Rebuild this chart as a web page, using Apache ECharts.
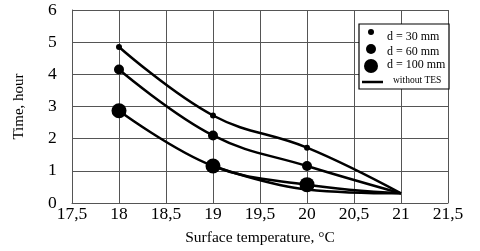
<!DOCTYPE html>
<html><head><meta charset="utf-8">
<script src="https://cdn.jsdelivr.net/npm/echarts@6/dist/echarts.min.js"></script>
<style>html,body{margin:0;padding:0;background:#fff}#c{width:480px;height:251px}</style>
</head><body><div id="c"></div>
<script>
var temps = [18, 19, 20, 21];
var d30 = [4.85, 2.72, 1.72, 0.3];
var d60 = [4.15, 2.1, 1.15, 0.3];
var d100 = [2.87, 1.15, 0.57, 0.3];
var noTesTemps = [19, 20, 21];
var noTes = [1.15, 0.42, 0.3];
var xTicks = ['17,5','18','18,5','19','19,5','20','20,5','21','21,5'];

function pairs(xs, ys){
  return xs.map(function(x,i){
    var p = {value:[x, ys[i]]};
    if (i === xs.length - 1) p.symbol = 'none';
    return p;
  });
}
var font = 'Liberation Serif';
var chart = echarts.init(document.getElementById('c'));
function lineSeries(name, data, sym){
  return {name:name, type:'line', smooth:0.4, data:data, symbol:'circle', symbolSize:sym,
    showSymbol: sym>0, lineStyle:{color:'#000', width:2.5}, itemStyle:{color:'#000'}, z:5};
}
chart.setOption({
  animation:false,
  grid:{left:72, right:32, top:10, bottom:48, show:false, outerBoundsMode:'none', containLabel:false},
  xAxis:{type:'value', min:17.5, max:21.5, interval:0.5,
    name:'Surface temperature, °C', nameLocation:'middle', nameGap:27,
    nameTextStyle:{fontFamily:font, fontSize:15.5, color:'#000'},
    axisLine:{show:true, lineStyle:{color:'#555', width:1}}, axisTick:{show:false},
    axisLabel:{fontFamily:font, fontSize:17.5, color:'#000', margin:2,
      formatter:function(v){return xTicks[Math.round((v-17.5)/0.5)];}},
    splitLine:{show:true, lineStyle:{color:'#555', width:1}}},
  yAxis:{type:'value', min:0, max:6, interval:1,
    name:'Time, hour', nameLocation:'middle', nameGap:45, nameRotate:90,
    nameTextStyle:{fontFamily:font, fontSize:15, color:'#000'},
    axisLine:{show:true, lineStyle:{color:'#555', width:1}}, axisTick:{show:false},
    axisLabel:{fontFamily:font, fontSize:17.5, color:'#000', margin:24, align:'left'},
    splitLine:{show:true, lineStyle:{color:'#555', width:1}}},
  series:[
    lineSeries('d = 30 mm', pairs(temps, d30), 6),
    lineSeries('d = 60 mm', pairs(temps, d60), 10),
    lineSeries('d = 100 mm', pairs(temps, d100), 15),
    lineSeries('without TES', pairs(noTesTemps, noTes), 0)
  ],
  graphic:[
    {type:'rect', shape:{x:359, y:24, width:90, height:65}, style:{fill:'#fff', stroke:'#000', lineWidth:1.2}, z:10},
    {type:'circle', shape:{cx:371, cy:32, r:3}, style:{fill:'#000'}, z:11},
    {type:'circle', shape:{cx:371, cy:49, r:5}, style:{fill:'#000'}, z:11},
    {type:'circle', shape:{cx:371, cy:66, r:7}, style:{fill:'#000'}, z:11},
    {type:'line', shape:{x1:362, y1:82, x2:383, y2:82}, style:{stroke:'#000', lineWidth:2.5}, z:11},
    {type:'text', x:387, y:37, style:{text:'d = 30 mm', font:'12px '+font, fill:'#000', textVerticalAlign:'middle'}, z:11},
    {type:'text', x:387, y:52, style:{text:'d = 60 mm', font:'12px '+font, fill:'#000', textVerticalAlign:'middle'}, z:11},
    {type:'text', x:387, y:65, style:{text:'d = 100 mm', font:'12px '+font, fill:'#000', textVerticalAlign:'middle'}, z:11},
    {type:'text', x:393, y:80, style:{text:'without TES', font:'9.5px '+font, fill:'#000', textVerticalAlign:'middle'}, z:11}
  ]
});
</script></body></html>
